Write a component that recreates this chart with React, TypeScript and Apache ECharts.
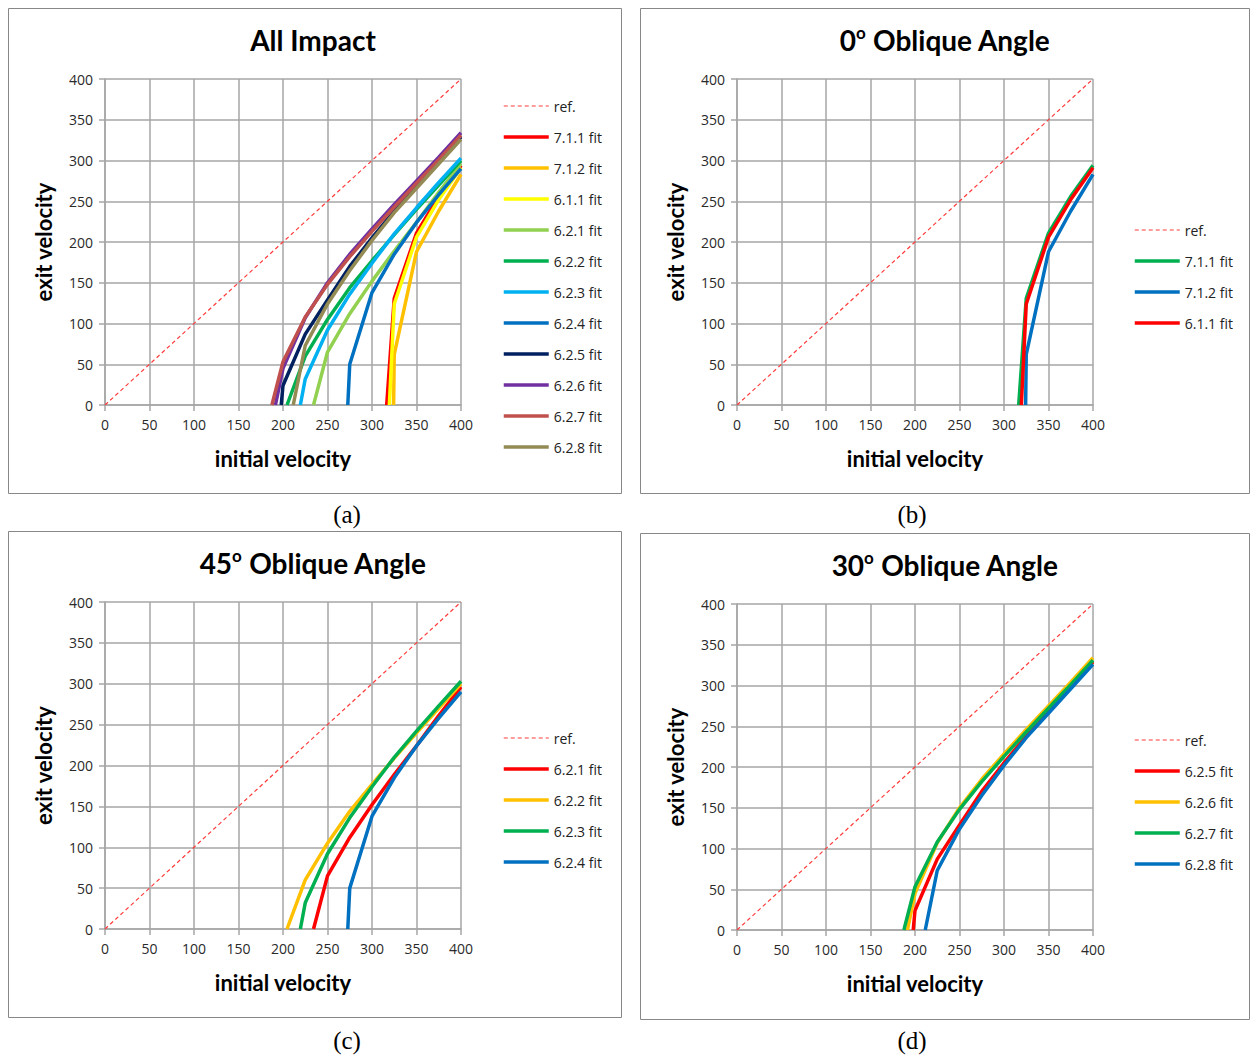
import React, { useEffect, useRef } from "react";
import * as echarts from "echarts";

// ---------- data (initial velocity, exit velocity) ----------
const refLine = [[0, 0], [400, 400]];
const fit711 = [[316.5, 0], [325, 131], [350, 211], [375, 256], [400, 294]];
const fit712 = [[324.3, 0], [325, 62], [350, 188], [375, 238], [400, 283]];
const fit611 = [[319.5, 0], [325, 124], [350, 206], [375, 252], [400, 291]];
const fit621 = [[234.3, 0], [250, 65], [275, 112], [300, 152], [325, 189], [350, 224], [375, 261], [400, 296]];
const fit622 = [[204.5, 0], [225, 60], [250, 105], [275, 144], [300, 177], [325, 209], [350, 240], [375, 270], [400, 300]];
const fit623 = [[219.5, 0], [225, 32], [250, 92], [275, 136], [300, 174], [325, 210], [350, 242], [375, 273], [400, 303]];
const fit624 = [[272.8, 0], [275, 50], [300, 138], [325, 185], [350, 224], [375, 258], [400, 290]];
const fit625 = [[198, 0], [200, 24], [225, 87], [250, 129], [275, 170], [300, 205], [325, 238], [350, 269], [375, 299], [400, 329]];
const fit626 = [[191.5, 0], [200, 45], [225, 107], [250, 150], [275, 185], [300, 216], [325, 246], [350, 275], [375, 304], [400, 334]];
const fit627 = [[187.5, 0], [200, 53], [225, 108], [250, 148], [275, 182], [300, 213], [325, 243], [350, 272], [375, 301], [400, 331]];
const fit628 = [[211.5, 0], [225, 73], [250, 124], [275, 165], [300, 202], [325, 236], [350, 266], [375, 296], [400, 326]];

const axisTicks = [0, 50, 100, 150, 200, 250, 300, 350, 400];

const panelTitles = ["All Impact", "0{sup|o} Oblique Angle", "45{sup|o} Oblique Angle", "30{sup|o} Oblique Angle"];
const captions = ["(a)", "(b)", "(c)", "(d)"];
const xName = "initial velocity";
const yName = "exit velocity";

const panelSeries = [
  [
    ["7.1.1 fit", fit711, "#FF0000"],
    ["7.1.2 fit", fit712, "#FFC000"],
    ["6.1.1 fit", fit611, "#FFFF00"],
    ["6.2.1 fit", fit621, "#92D050"],
    ["6.2.2 fit", fit622, "#00B050"],
    ["6.2.3 fit", fit623, "#00B0F0"],
    ["6.2.4 fit", fit624, "#0070C0"],
    ["6.2.5 fit", fit625, "#002060"],
    ["6.2.6 fit", fit626, "#7030A0"],
    ["6.2.7 fit", fit627, "#C0504D"],
    ["6.2.8 fit", fit628, "#948A54"],
  ],
  [
    ["7.1.1 fit", fit711, "#00B050"],
    ["7.1.2 fit", fit712, "#0070C0"],
    ["6.1.1 fit", fit611, "#FF0000"],
  ],
  [
    ["6.2.1 fit", fit621, "#FF0000"],
    ["6.2.2 fit", fit622, "#FFC000"],
    ["6.2.3 fit", fit623, "#00B050"],
    ["6.2.4 fit", fit624, "#0070C0"],
  ],
  [
    ["6.2.5 fit", fit625, "#FF0000"],
    ["6.2.6 fit", fit626, "#FFC000"],
    ["6.2.7 fit", fit627, "#00B050"],
    ["6.2.8 fit", fit628, "#0070C0"],
  ],
];

// ---------- layout ----------
const panels = [
  { box: [8, 8, 613, 485], grid: [105, 79, 356, 326], legend: [502, 99], title: [313, 40], cap: [347, 514] },
  { box: [640, 8, 609, 485], grid: [737, 79, 356, 326], legend: [1133, 223], title: [945, 40], cap: [912, 514] },
  { box: [8, 531, 613, 486], grid: [105, 602, 356, 327], legend: [502, 731], title: [313, 563], cap: [347, 1040] },
  { box: [640, 533, 609, 486], grid: [737, 604, 356, 326], legend: [1133, 733], title: [945, 565], cap: [912, 1040] },
];

const FONT = "'Open Sans', 'DejaVu Sans', sans-serif";
const BOLD_FONT = "Lato, 'Open Sans', sans-serif";
const GRID_COLOR = "#A6A6A6";

function buildOption() {
  const keys = ["a", "b", "c", "d"];
  const grid: any[] = [];
  const xAxis: any[] = [];
  const yAxis: any[] = [];
  const series: any[] = [];
  const legend: any[] = [];
  const graphic: any[] = [];

  panels.forEach((p, i) => {
    const [gl, gt, gw, gh] = p.grid;
    grid.push({ left: gl, top: gt, width: gw, height: gh, containLabel: false });
    const axisCommon = {
      type: "value",
      gridIndex: i,
      min: axisTicks[0],
      max: axisTicks[axisTicks.length - 1],
      interval: axisTicks[1] - axisTicks[0],
      axisLine: { show: true, lineStyle: { color: GRID_COLOR, width: 1.5 } },
      axisTick: { show: true, length: 6, lineStyle: { color: GRID_COLOR, width: 1.5 } },
      splitLine: { show: true, lineStyle: { color: GRID_COLOR, width: 1.5 } },
      axisLabel: { fontFamily: FONT, fontSize: 14, color: "#2a2a2a", margin: 12 },
      nameLocation: "middle",
      nameTextStyle: { fontFamily: BOLD_FONT, fontSize: 22, fontWeight: "bold", color: "#000" },
    };
    xAxis.push({ ...axisCommon, name: xName, nameGap: 42 });
    yAxis.push({ ...axisCommon, name: yName, nameGap: 51 });

    const legendData: any[] = [];
    const refName = keys[i] + "|ref.";
    legendData.push({ name: refName, lineStyle: { width: 1.2 } });
    series.push({
      type: "line",
      name: refName,
      xAxisIndex: i,
      yAxisIndex: i,
      data: refLine,
      symbol: "none",
      lineStyle: { color: "#FF3B3B", width: 1.2, type: [4, 3] },
      itemStyle: { color: "#FF3B3B" },
      silent: true,
    });
    panelSeries[i].forEach(([nm, data, color]: any) => {
      const full = keys[i] + "|" + nm;
      legendData.push({ name: full, lineStyle: { width: 3.5 } });
      series.push({
        type: "line",
        name: full,
        xAxisIndex: i,
        yAxisIndex: i,
        data,
        symbol: "none",
        lineStyle: { color, width: 3.5 },
        itemStyle: { color },
        silent: true,
      });
    });

    legend.push({
      orient: "vertical",
      left: p.legend[0],
      top: p.legend[1],
      padding: 0,
      itemWidth: 45,
      itemHeight: 14,
      itemGap: 17,
      data: legendData,
      formatter: (n: string) => n.split("|")[1],
      itemStyle: { opacity: 0 },
      textStyle: { fontFamily: FONT, fontSize: 14, color: "#222", lineHeight: 14 },
      selectedMode: false,
    });

    graphic.push({
      type: "rect",
      shape: { x: p.box[0] + 0.5, y: p.box[1] + 0.5, width: p.box[2], height: p.box[3] },
      style: { fill: "none", stroke: "#878787", lineWidth: 1 },
      silent: true,
    });
    graphic.push({
      type: "text",
      x: p.title[0],
      y: p.title[1],
      style: {
        text: panelTitles[i],
        align: "center",
        verticalAlign: "middle",
        fontFamily: BOLD_FONT,
        fontSize: 28,
        fontWeight: "bold",
        fill: "#000",
        lineHeight: 32,
        rich: {
          sup: { fontFamily: BOLD_FONT, fontSize: 17, fontWeight: "bold", fill: "#000", verticalAlign: "top", lineHeight: 12 },
        },
      },
      silent: true,
    });
    graphic.push({
      type: "text",
      x: p.cap[0],
      y: p.cap[1],
      style: {
        text: captions[i],
        align: "center",
        verticalAlign: "middle",
        fontFamily: "'Liberation Serif', 'DejaVu Serif', serif",
        fontSize: 25,
        fill: "#000",
      },
      silent: true,
    });
  });

  return {
    animation: false,
    backgroundColor: "#fff",
    grid,
    xAxis,
    yAxis,
    series,
    legend,
    graphic,
  };
}

export default function App() {
  const ref = useRef<HTMLDivElement>(null);
  useEffect(() => {
    if (!ref.current) return;
    const chart = echarts.init(ref.current, undefined, { renderer: "svg" });
    chart.setOption(buildOption() as any);
    return () => chart.dispose();
  }, []);
  return (
    <div
      ref={ref}
      style={{ position: "absolute", left: 0, top: 0, width: 1250, height: 1055, background: "#fff" }}
    />
  );
}
